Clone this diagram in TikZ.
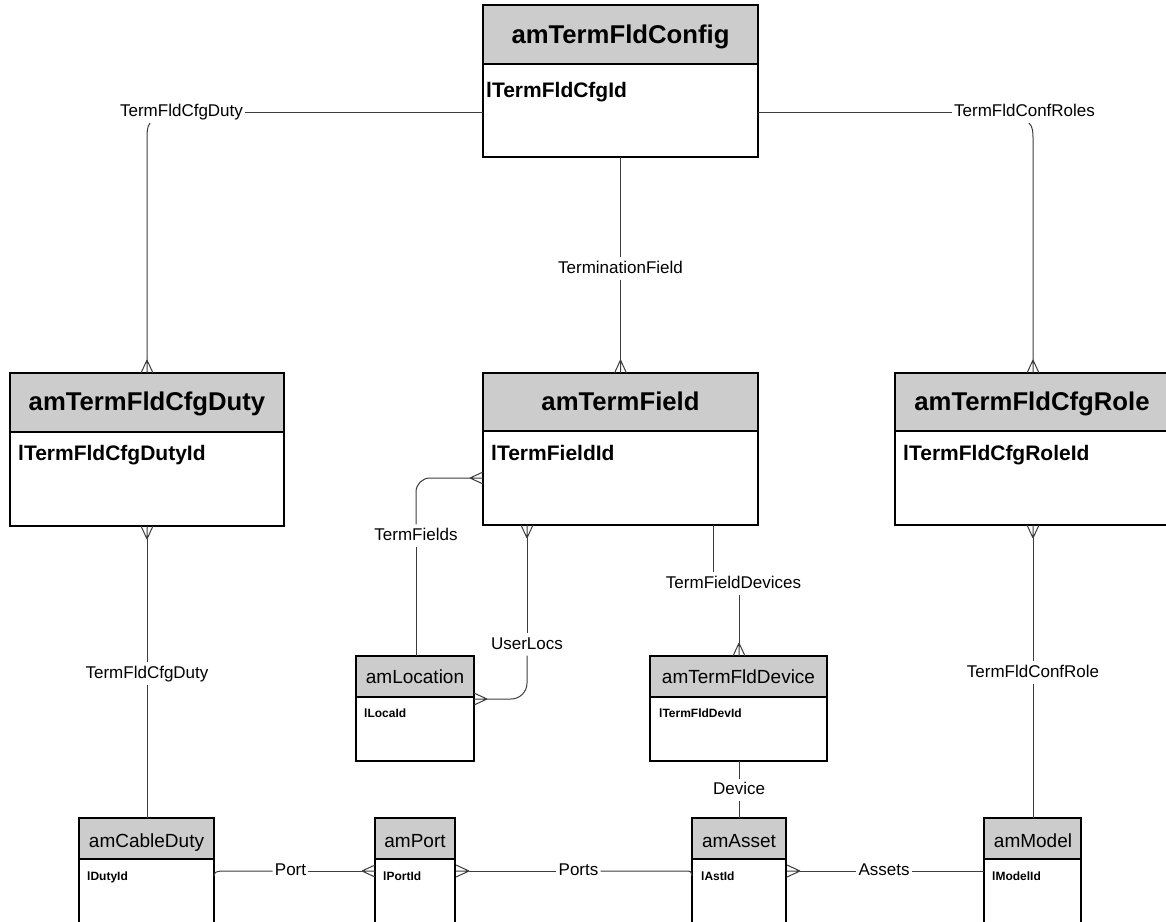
\documentclass[tikz,border=0pt]{standalone}
\usepackage{fontspec}
\setmainfont{Liberation Sans}
\definecolor{hdr}{RGB}{204,204,204}
\definecolor{lnk}{RGB}{60,60,60}
\tikzset{
  ebox/.style={draw=black, line width=2pt, inner sep=0pt, outer sep=0pt, anchor=north west},
  sepline/.style={draw=black, line width=2pt},
  btitle/.style={font=\fontsize{25.7}{30}\selectfont\bfseries, anchor=base, inner sep=0pt},
  battr/.style={font=\fontsize{21}{25}\selectfont\bfseries, anchor=base west, inner sep=0pt},
  stitle/.style={font=\fontsize{19}{23}\selectfont, anchor=base, inner sep=0pt},
  sattr/.style={font=\fontsize{12}{14}\selectfont\bfseries, anchor=base west, inner sep=0pt},
  rel/.style={font=\fontsize{17}{20}\selectfont, text height=12.5pt, text depth=3.5pt, inner xsep=2pt, inner ysep=3pt},
  conn/.style={draw=lnk, line width=1pt},
  crowD/.pic={\draw[conn] (0,0)--(-6,13) (0,0)--(6,13) (0,0)--(0,13);},
  crowU/.pic={\draw[conn] (0,0)--(-6,-13) (0,0)--(6,-13) (0,0)--(0,-13);},
  crowR/.pic={\draw[conn] (0,0)--(13,-6) (0,0)--(13,6) (0,0)--(13,0);},
  crowL/.pic={\draw[conn] (0,0)--(-13,-6) (0,0)--(-13,6) (0,0)--(-13,0);}
}
\begin{document}
\begin{tikzpicture}[x=1pt,y=-1pt]
\useasboundingbox[fill=white] (0,0) rectangle (1166,921);

% ---------- big entities ----------
% amTermFldConfig
\fill[hdr] (483,5) rectangle (758,64);
\node[ebox, minimum width=275, minimum height=152] (cfg) at (483,5) {};
\draw[sepline] (483,64) -- (758,64);
\node[btitle] (cfgT) at (620.5,43) {amTermFldConfig};
\node[battr] (cfgA) at (486,97) {lTermFldCfgId};

% amTermFldCfgDuty
\fill[hdr] (10,373) rectangle (284,432);
\node[ebox, minimum width=274, minimum height=153] (duty) at (10,373) {};
\draw[sepline] (10,432) -- (284,432);
\node[btitle] (dutyT) at (147,410) {amTermFldCfgDuty};
\node[battr] (dutyA) at (18,460) {lTermFldCfgDutyId};

% amTermField
\fill[hdr] (483,373) rectangle (758,431);
\node[ebox, minimum width=275, minimum height=152] (fld) at (483,373) {};
\draw[sepline] (483,431) -- (758,431);
\node[btitle] (fldT) at (620.5,410) {amTermField};
\node[battr] (fldA) at (491,460) {lTermFieldId};

% amTermFldCfgRole
\fill[hdr] (895,373) rectangle (1169,431);
\node[ebox, minimum width=274, minimum height=152] (role) at (895,373) {};
\draw[sepline] (895,431) -- (1169,431);
\node[btitle] (roleT) at (1032,410) {amTermFldCfgRole};
\node[battr] (roleA) at (903,460) {lTermFldCfgRoleId};

% ---------- small entities ----------
% amLocation
\fill[hdr] (356,656) rectangle (474,697);
\node[ebox, minimum width=118, minimum height=105] (loc) at (356,656) {};
\draw[sepline] (356,697) -- (474,697);
\node[stitle] (locT) at (415,683) {amLocation};
\node[sattr] (locA) at (364,717) {lLocaId};

% amTermFldDevice
\fill[hdr] (650,656) rectangle (827,697);
\node[ebox, minimum width=177, minimum height=105] (dev) at (650,656) {};
\draw[sepline] (650,697) -- (827,697);
\node[stitle] (devT) at (738.5,683) {amTermFldDevice};
\node[sattr] (devA) at (659,717) {lTermFldDevId};

% amCableDuty
\fill[hdr] (79,818) rectangle (214,859);
\node[ebox, minimum width=135, minimum height=142] (cd) at (79,818) {};
\draw[sepline] (79,859) -- (214,859);
\node[stitle] (cdT) at (146.5,847) {amCableDuty};
\node[sattr] (cdA) at (87,880) {lDutyId};

% amPort
\fill[hdr] (375,818) rectangle (455,859);
\node[ebox, minimum width=80, minimum height=142] (port) at (375,818) {};
\draw[sepline] (375,859) -- (455,859);
\node[stitle] (portT) at (415,847) {amPort};
\node[sattr] (portA) at (383,880) {lPortId};

% amAsset
\fill[hdr] (692,818) rectangle (786,859);
\node[ebox, minimum width=94, minimum height=142] (ast) at (692,818) {};
\draw[sepline] (692,859) -- (786,859);
\node[stitle] (astT) at (739,847) {amAsset};
\node[sattr] (astA) at (701,880) {lAstId};

% amModel
\fill[hdr] (984,818) rectangle (1081,859);
\node[ebox, minimum width=97, minimum height=142] (mdl) at (984,818) {};
\draw[sepline] (984,859) -- (1081,859);
\node[stitle] (mdlT) at (1033,847) {amModel};
\node[sattr] (mdlA) at (992,880) {lModelId};

% ---------- relationship labels ----------
\node[rel] (lD1) at (181.5,112) {TermFldCfgDuty};
\node[rel] (lTF0) at (620.5,268.5) {TerminationField};
\node[rel] (lR1) at (1024.5,112) {TermFldConfRoles};
\node[rel] (lTFs) at (416,535.5) {TermFields};
\node[rel] (lUL) at (527,644.5) {UserLocs};
\node[rel] (lTFD) at (733.5,583.5) {TermFieldDevices};
\node[rel] (lD2) at (147,673.5) {TermFldCfgDuty};
\node[rel] (lR2) at (1033,672.5) {TermFldConfRole};
\node[rel] (lDev) at (739,790) {Device};
\node[rel] (lPort) at (290.5,871) {Port};
\node[rel] (lPorts) at (578.5,871) {Ports};
\node[rel] (lAs) at (884,871) {Assets};

% ---------- connector points ----------
\coordinate (d1s) at (150,123);
\coordinate (dutyTop) at (147,360);
\coordinate (fldTop) at (620.5,360);
\coordinate (r1s) at (1029,123);
\coordinate (roleTop) at (1033,360);
\coordinate (fldLeft) at (470,478);
\coordinate (fldBot) at (527,538);
\coordinate (locRight) at (487,699);
\coordinate (tfdStart) at (713,525);
\coordinate (devTop) at (739,643);
\coordinate (dutyBot) at (147,539);
\coordinate (roleBot) at (1033,538);
\coordinate (cdRight) at (214,876);
\coordinate (portLeft) at (362,871);
\coordinate (portRight) at (469,871);
\coordinate (astLeft) at (692,876);
\coordinate (astRight) at (800,871);

% ---------- connectors ----------
% TermFldCfgDuty (config -> duty)
\draw[conn] (cfg.west |- lD1.east) -- (lD1.east);
\draw[conn] (d1s) .. controls (147,127) and (147,132) .. (147,140) -- (dutyTop);
\pic at (dutyTop) {crowD};

% TerminationField (config -> field)
\draw[conn] (cfg.south) -- (lTF0);
\draw[conn] (lTF0) -- (fldTop);
\pic at (fldTop) {crowD};

% TermFldConfRoles (config -> role)
\draw[conn] (cfg.east |- lR1.west) -- (lR1.west);
\draw[conn] (r1s) .. controls (1033,127) and (1033,132) .. (1033,140) -- (roleTop);
\pic at (roleTop) {crowD};

% TermFields (location -> field)
\draw[conn] (loc.north -| lTFs) -- (lTFs);
\draw[conn, rounded corners=14] (lTFs.north) |- (fldLeft);
\pic at (fldLeft) {crowR};

% UserLocs (field -> location)
\pic at (fldBot) {crowU};
\draw[conn] (fldBot) -- (lUL);
\draw[conn, rounded corners=16] (lUL.south) |- (locRight);
\pic at (locRight) {crowL};

% TermFieldDevices (field -> device)
\draw[conn] (tfdStart) -- (tfdStart |- lTFD.north);
\draw[conn] (devTop |- lTFD.south) -- (devTop);
\pic at (devTop) {crowD};

% TermFldCfgDuty (duty -> cable duty)
\pic at (dutyBot) {crowU};
\draw[conn] (dutyBot) -- (lD2);
\draw[conn] (lD2) -- (cd.north -| lD2);

% TermFldConfRole (role -> model)
\pic at (roleBot) {crowU};
\draw[conn] (roleBot) -- (lR2);
\draw[conn] (lR2) -- (mdl.north -| lR2);

% Device (device -> asset)
\draw[conn] (dev.south -| lDev) -- (lDev);
\draw[conn] (lDev) -- (ast.north -| lDev);

% Port (cable duty -> port)
\draw[conn] (cdRight) .. controls (215,872) .. (221,871) -- (lPort.west);
\draw[conn] (lPort.east) -- (portLeft);
\pic at (portLeft) {crowR};

% Ports (port -> asset)
\pic at (portRight) {crowL};
\draw[conn] (portRight) -- (lPorts.west);
\draw[conn] (lPorts.east) -- (685,871) .. controls (691,871) .. (astLeft);

% Assets (asset -> model)
\pic at (astRight) {crowL};
\draw[conn] (astRight) -- (lAs.west);
\draw[conn] (lAs.east) -- (mdl.west |- lAs.east);
\end{tikzpicture}
\end{document}
